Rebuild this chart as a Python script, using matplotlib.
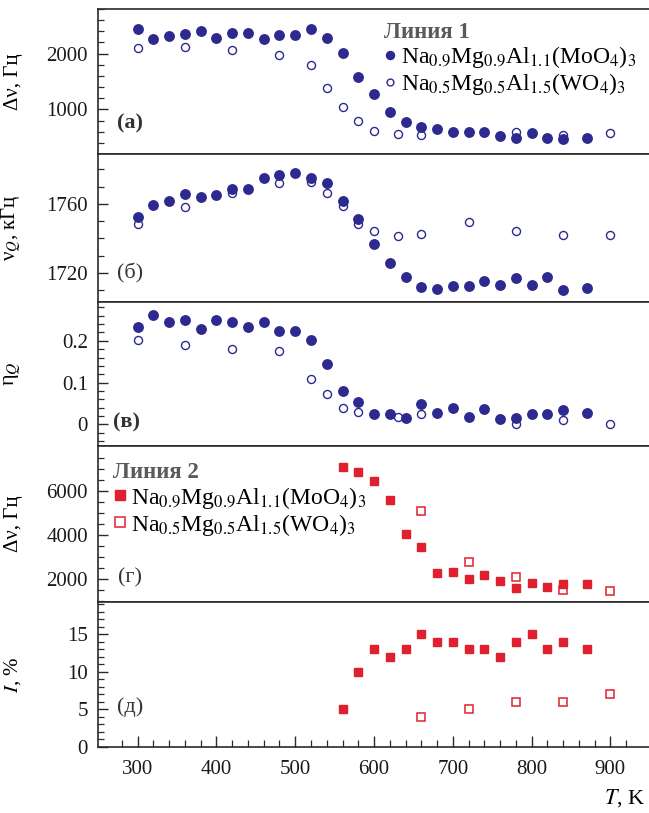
import numpy as np
import matplotlib.pyplot as plt
from matplotlib.ticker import MultipleLocator, FixedLocator, FuncFormatter

plt.rcParams['font.family'] = ['Liberation Serif', 'DejaVu Serif']
plt.rcParams['mathtext.fontset'] = 'stix'
plt.rcParams['font.size'] = 15

blue = '#2c2a90'
red = '#e0202f'

lab_mo = r'Na$_{0.9}$Mg$_{0.9}$Al$_{1.1}$(MoO$_4$)$_3$'
lab_w = r'Na$_{0.5}$Mg$_{0.5}$Al$_{1.5}$(WO$_4$)$_3$'

# Линия 1, Na0.9Mg0.9Al1.1(MoO4)3
t_mo = [300, 320, 340, 360, 380, 400, 420, 440, 460, 480, 500, 520, 540, 560, 580,
        600, 620, 640, 660, 680, 700, 720, 740, 760, 780, 800, 820, 840, 870]
dnu1_mo = [2450, 2270, 2315, 2360, 2405, 2285, 2375, 2375, 2255, 2335, 2335, 2450, 2285, 2010, 1575,
           1275, 950, 780, 680, 650, 590, 600, 590, 530, 490, 575, 480, 465, 480]
nuq_mo = [1752.5, 1759.4, 1761.6, 1765.9, 1763.9, 1764.9, 1768.9, 1768.9, 1775.2, 1776.7, 1778.1,
          1775.2, 1772.2, 1761.6, 1751.1, 1736.7, 1725.9, 1717.6, 1711.7, 1710.3, 1712.1, 1712.1,
          1715.1, 1713.1, 1717.0, 1713.1, 1717.6, 1710.1, 1711.3]
eta_mo = [0.233, 0.263, 0.244, 0.251, 0.229, 0.251, 0.244, 0.233, 0.244, 0.223, 0.223, 0.203, 0.144,
          0.080, 0.053, 0.024, 0.025, 0.014, 0.048, 0.028, 0.040, 0.018, 0.036, 0.012, 0.016, 0.024,
          0.024, 0.034, 0.028]

# Линия 1, Na0.5Mg0.5Al1.5(WO4)3
t_w_a = [300, 360, 420, 480, 520, 540, 560, 580, 600, 630, 660, 780, 840, 900]
dnu1_w = [2105, 2115, 2060, 1970, 1800, 1375, 1040, 800, 605, 560, 540, 590, 540, 575]
t_w_b = [300, 360, 420, 480, 520, 540, 560, 580, 600, 630, 660, 720, 780, 840, 900]
nuq_w = [1748.2, 1758.0, 1766.3, 1772.2, 1772.8, 1766.3, 1759.0, 1748.2, 1744.2, 1741.3, 1742.3,
         1749.2, 1744.2, 1741.7, 1741.7]
t_w_c = [300, 360, 420, 480, 520, 540, 560, 580, 630, 660, 780, 840, 900]
eta_w = [0.202, 0.191, 0.180, 0.175, 0.108, 0.072, 0.038, 0.030, 0.018, 0.024, 0.0, 0.010, 0.0]

# Линия 2
t2_mo = [560, 580, 600, 620, 640, 660, 680, 700, 720, 740, 760, 780, 800, 820, 840, 870]
dnu2_mo = [7080, 6860, 6480, 5580, 4030, 3470, 2270, 2315, 2015, 2195, 1895, 1595, 1820, 1640, 1790, 1790]
int_mo = [5, 10, 13, 12, 13, 15, 14, 14, 13, 13, 12, 14, 15, 13, 14, 13]
t2_w = [660, 720, 780, 840, 900]
dnu2_w = [5080, 2770, 2090, 1520, 1445]
int_w = [4, 5, 6, 6, 7]

W, H = 649, 813
fig = plt.figure(figsize=(W / 100, H / 100), dpi=100)

left, right = 97.5, 649
rows = [(9, 154), (154, 302), (302, 446), (446, 602), (602, 747)]
axes = []
for top, bot in rows:
    ax = fig.add_axes([left / W, 1 - bot / H, (right - left) / W, (bot - top) / H])
    axes.append(ax)

fmt = FuncFormatter(lambda v, p: '%g' % round(v, 3))

for ax in axes:
    ax.set_xlim(249, 949)
    ax.spines['right'].set_visible(False)
    for s in ['left', 'top', 'bottom']:
        ax.spines[s].set_linewidth(1.2)
        ax.spines[s].set_color('#2a2a2a')
    ax.tick_params(axis='both', which='both', direction='in', colors='#2a2a2a',
                   labelcolor='#1a1a1a', labelsize=15)
    ax.tick_params(which='major', length=7, width=1.0, pad=7)
    ax.tick_params(which='minor', length=4, width=0.9)
    ax.xaxis.set_major_locator(MultipleLocator(100))
    ax.xaxis.set_minor_locator(FixedLocator(np.arange(280, 921, 20)))
    ax.yaxis.set_major_formatter(fmt)
    ax.yaxis.set_label_coords(-0.135, 0.5)
    if ax is not axes[-1]:
        ax.tick_params(axis='x', which='both', bottom=False, labelbottom=False)

ms_c = 6.8
ms_o = 5.8
ms_s = 5.8


def add_legend(ax, title, anchor, scale):
    leg = ax.legend(loc='upper left', bbox_to_anchor=anchor, frameon=False, borderpad=0,
                    handlelength=0.55, handletextpad=0.2, labelspacing=0.05, borderaxespad=0,
                    markerscale=scale, title=title, title_fontsize=16.5, alignment='left',
                    fontsize=17)
    t = leg.get_title()
    t.set_fontweight('bold')
    t.set_fontstyle('normal')
    t.set_color('#5a5a5a')
    return leg


# (а)
ax = axes[0]
ax.plot(t_mo, dnu1_mo, 'o', color=blue, ms=ms_c, mec=blue, label=lab_mo)
ax.plot(t_w_a, dnu1_w, 'o', mfc='none', mec=blue, ms=ms_o, mew=1.0, label=lab_w)
ax.set_ylim(200, 2800)
ax.yaxis.set_major_locator(MultipleLocator(1000))
ax.yaxis.set_minor_locator(MultipleLocator(200))
ax.set_ylabel('Δν, Гц', fontsize=15)
ax.text(0.036, 0.21, '(а)', transform=ax.transAxes, fontsize=16, fontweight='bold', va='center', color='#333')
add_legend(ax, 'Линия 1', (0.519, 0.91), 0.85)

# (б)
ax = axes[1]
ax.plot(t_w_b, nuq_w, 'o', mfc='none', mec=blue, ms=ms_o, mew=1.0)
ax.plot(t_mo, nuq_mo, 'o', color=blue, ms=ms_c, mec=blue)
ax.set_ylim(1703, 1789)
ax.yaxis.set_major_locator(MultipleLocator(40))
ax.yaxis.set_minor_locator(MultipleLocator(10))
ax.set_ylabel(r'ν$_Q$, кГц', fontsize=15)
ax.text(0.035, 0.19, '(б)', transform=ax.transAxes, fontsize=16, va='center', color='#333')

# (в)
ax = axes[2]
ax.plot(t_mo, eta_mo, 'o', color=blue, ms=ms_c, mec=blue)
ax.plot(t_w_c, eta_w, 'o', mfc='none', mec=blue, ms=ms_o, mew=1.0)
ax.set_ylim(-0.052, 0.293)
ax.yaxis.set_major_locator(MultipleLocator(0.1))
ax.yaxis.set_minor_locator(MultipleLocator(0.02))
ax.set_ylabel(r'η$_Q$', fontsize=16)
ax.text(0.028, 0.16, '(в)', transform=ax.transAxes, fontsize=16, fontweight='bold', va='center', color='#333')

# (г)
ax = axes[3]
ax.plot(t2_mo, dnu2_mo, 's', color=red, ms=ms_s, mec=red, label=lab_mo)
ax.plot(t2_w, dnu2_w, 's', mfc='none', mec=red, ms=ms_s, mew=1.1, label=lab_w)
ax.set_ylim(960, 8050)
ax.yaxis.set_major_locator(FixedLocator([2000, 4000, 6000]))
ax.yaxis.set_minor_locator(FixedLocator(np.arange(1000, 7600, 500)))
ax.set_ylabel('Δν, Гц', fontsize=15)
ax.text(0.037, 0.155, '(г)', transform=ax.transAxes, fontsize=16, va='center', color='#333')
add_legend(ax, 'Линия 2', (0.029, 0.895), 1.25)

# (д)
ax = axes[4]
ax.plot(t2_mo, int_mo, 's', color=red, ms=ms_s, mec=red)
ax.plot(t2_w, int_w, 's', mfc='none', mec=red, ms=ms_s, mew=1.1)
ax.set_ylim(0, 19.3)
ax.yaxis.set_major_locator(MultipleLocator(5))
ax.yaxis.set_minor_locator(MultipleLocator(1))
ax.set_ylabel(r'$I$, %', fontsize=15)
ax.text(0.036, 0.275, '(д)', transform=ax.transAxes, fontsize=16, va='center', color='#333')
ax.tick_params(axis='x', which='major', length=8, pad=9)
ax.tick_params(axis='x', which='minor', length=5)
ax.set_xlabel(r'$T$, K', fontsize=16)
ax.xaxis.set_label_coords(0.993, -0.352)
ax.xaxis.label.set_ha('right')
ax.xaxis.label.set_va('center')

fig.savefig('out.png', dpi=100)
